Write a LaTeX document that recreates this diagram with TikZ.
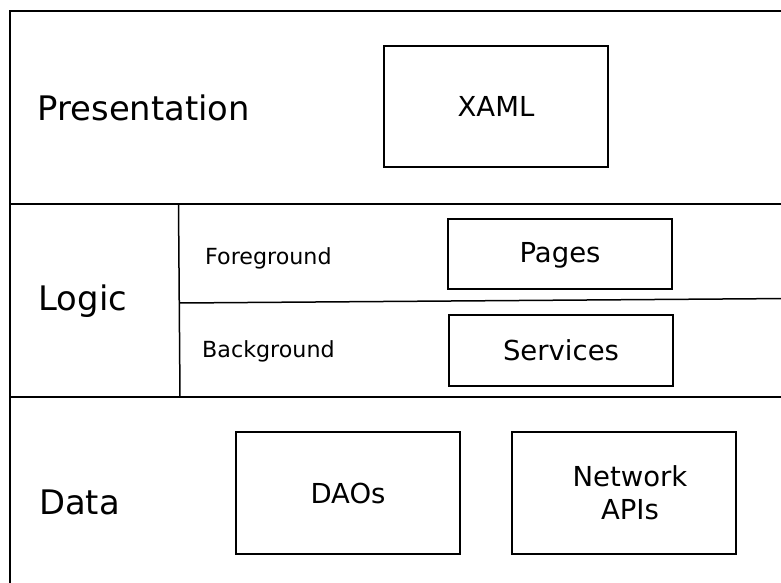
\documentclass[tikz,border=0pt]{standalone}
\usepackage{fontspec}
\setmainfont{DejaVu Sans}
\begin{document}
\begin{tikzpicture}[x=1pt,y=-1pt,
  frameline/.style={line width=1.8pt, line cap=rect},
  comp/.style={draw, line width=1.5pt, minimum width=224pt, inner sep=0pt,
    font=\fontsize{27.5}{33}\selectfont, align=center},
  layer/.style={anchor=base west, inner sep=0pt, font=\fontsize{33.8}{40}\selectfont},
  sublayer/.style={anchor=base west, inner sep=0pt, font=\fontsize{22.2}{26}\selectfont}]
\useasboundingbox (0,0) rectangle (781,583);

% layer frame
\coordinate (tl) at (10,11);
\coordinate (bl) at (10,590);
\coordinate (tr) at (790,11);
\draw[frameline] (bl) -- (tl) -- (tr);
\draw[frameline] (10,204) coordinate (l1) -- (790,204) coordinate (r1);
\draw[frameline] (10,397) coordinate (l2) -- (790,397) coordinate (r2);
% logic split into foreground / background
\draw[line width=1.5pt] (178.5,204) coordinate (vt) -- (180,397) coordinate (vb);
\draw[line width=1.5pt] (vt |- 0,303) ++(1,0) coordinate (ml) -- (790,298.5) coordinate (mr);

% layer names
\node[layer] (pres) at (37.5,121) {Presentation};
\node[layer] (logic) at (38.5,310) {Logic};
\node[layer] (data) at (39,514) {Data};
\node[sublayer] (fg) at (205,264) {Foreground};
\node[sublayer] (bg) at (202,357) {Background};

% components
\node[comp, minimum height=121pt] (xaml) at (496,106.5) {XAML};
\node[comp, minimum height=70pt] (pages) at (560,254) {};
\node[inner sep=0pt, font=\fontsize{27.5}{33}\selectfont, anchor=base]
  (pageslabel) at (560,262) {Pages};
\node[comp, minimum height=71pt] (services) at (561,350.5) {Services};
\node[comp, minimum height=122pt] (daos) at (348,493) {DAOs};
\node[comp, minimum height=122pt] (net) at (624,493) {};
\node[inner sep=0pt, align=center, font=\fontsize{27.5}{33}\selectfont]
  (netlabel) at ([xshift=6pt]net.center) {Network\\APIs};
\end{tikzpicture}
\end{document}
